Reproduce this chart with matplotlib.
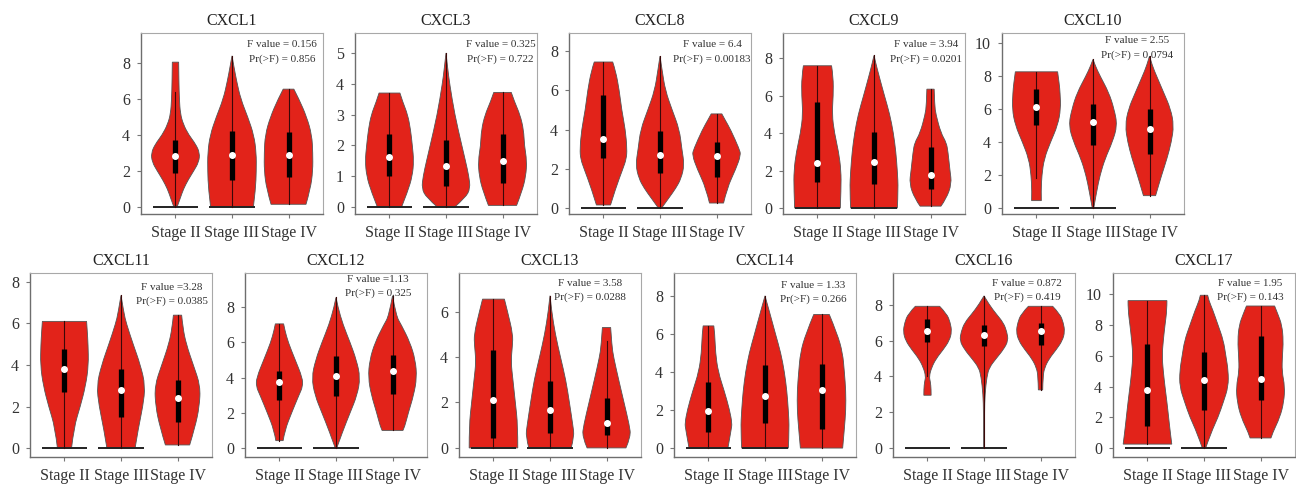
import matplotlib
matplotlib.use("Agg")
import matplotlib.pyplot as plt
from matplotlib.path import Path
from matplotlib.patches import PathPatch

plt.rcParams['font.family'] = ['Liberation Serif', 'DejaVu Serif']

# Data
stages = ['Stage II', 'Stage III', 'Stage IV']
genes = ['CXCL1', 'CXCL3', 'CXCL8', 'CXCL9', 'CXCL10',
         'CXCL11', 'CXCL12', 'CXCL13', 'CXCL14', 'CXCL16', 'CXCL17']
f_text = ['F value = 0.156', 'F value = 0.325', 'F value = 6.4', 'F value = 3.94',
          'F value = 2.55', 'F value =3.28', 'F value =1.13', 'F value = 3.58',
          'F value = 1.33', 'F value = 0.872', 'F value = 1.95']
p_text = ['Pr(>F) = 0.856', 'Pr(>F) = 0.722', 'Pr(>F) = 0.00183', 'Pr(>F) = 0.0201',
          'Pr(>F) = 0.0794', 'Pr(>F) = 0.0385', 'Pr(>F) = 0.325', 'Pr(>F) = 0.0288',
          'Pr(>F) = 0.266', 'Pr(>F) = 0.419', 'Pr(>F) = 0.143']
y_limits = [(-0.39, 9.67), (-0.23, 5.65), (-0.31, 8.93), (-0.32, 9.35), (-0.36, 10.6),
            (-0.43, 8.43), (-0.51, 9.94), (-0.4, 7.7), (-0.47, 9.2), (-0.5, 9.78),
            (-0.59, 11.4)]
y_ticks = [[0, 2, 4, 6, 8], [0, 1, 2, 3, 4, 5], [0, 2, 4, 6, 8], [0, 2, 4, 6, 8],
           [0, 2, 4, 6, 8, 10], [0, 2, 4, 6, 8], [0, 2, 4, 6, 8], [0, 2, 4, 6],
           [0, 2, 4, 6, 8], [0, 2, 4, 6, 8], [0, 2, 4, 6, 8, 10]]
zero_line = [True, True, False]

# violin outlines: (expression, relative half-width), bottom to top
cxcl1_shape = [
    [(0.05, 0.08), (0.5, 0.2), (1, 0.33), (1.5, 0.52), (2, 0.75), (2.5, 0.96), (3, 1.0),
     (3.5, 0.83), (4, 0.55), (4.6, 0.32), (5.2, 0.2), (6, 0.16), (7, 0.14), (8.05, 0.13)],
    [(0, 0.88), (1, 0.97), (2, 1.0), (3, 1.0), (4, 0.9), (5, 0.65), (6, 0.36), (7, 0.19),
     (7.8, 0.08), (8.4, 0.0)],
    [(0.15, 0.72), (1, 0.9), (2, 1.0), (3, 1.0), (4, 0.96), (5, 0.75), (6, 0.43), (6.55, 0.22)],
]
cxcl3_shape = [
    [(0, 0.5), (0.5, 0.75), (1, 0.94), (1.5, 1.0), (2, 0.94), (2.5, 0.87), (3, 0.75),
     (3.4, 0.55), (3.7, 0.43)],
    [(0, 0.36), (0.3, 0.8), (0.6, 1.0), (1, 0.94), (1.5, 0.8), (2, 0.65), (3, 0.36),
     (4, 0.15), (4.5, 0.07), (5.0, 0.0)],
    [(0.05, 0.58), (0.5, 0.8), (1, 0.96), (1.5, 1.0), (2, 0.9), (2.5, 0.87), (3, 0.72),
     (3.4, 0.5), (3.72, 0.36)],
]
cxcl8_shape = [
    [(0.15, 0.29), (1, 0.5), (2, 0.8), (2.5, 0.94), (3, 0.97), (4, 0.9), (5, 0.75),
     (6, 0.65), (7, 0.5), (7.45, 0.38)],
    [(0, 0.07), (0.5, 0.36), (1, 0.65), (1.5, 0.87), (2.2, 1.0), (3, 0.9), (4, 0.8),
     (5, 0.5), (6, 0.22), (7, 0.09), (7.75, 0.0)],
    [(0.25, 0.29), (1, 0.43), (2, 0.8), (2.7, 1.0), (3, 0.94), (4, 0.58), (4.5, 0.35),
     (4.8, 0.22)],
]
cxcl9_shape = [
    [(0, 0.94), (1, 0.97), (2, 0.97), (3, 0.87), (4, 0.7), (5, 0.6), (6, 0.65), (7, 0.65),
     (7.6, 0.58)],
    [(0, 0.96), (1, 1.0), (2, 0.96), (3, 0.9), (4, 0.8), (5, 0.65), (6, 0.43), (7, 0.22),
     (7.7, 0.08), (8.15, 0.0)],
    [(0.1, 0.43), (0.5, 0.65), (1.3, 0.87), (2, 0.8), (3, 0.72), (3.5, 0.65), (4, 0.43),
     (5, 0.22), (5.5, 0.17), (6.35, 0.15)],
]
cxcl10_shape = [
    [(0.45, 0.2), (1, 0.19), (2, 0.22), (3, 0.32), (4, 0.58), (5, 0.87), (6, 1.0),
     (7, 0.97), (7.5, 0.94), (8.25, 0.87)],
    [(0, 0.03), (1, 0.15), (2, 0.29), (3, 0.5), (4, 0.8), (5, 1.0), (6, 0.87), (7, 0.65),
     (8, 0.29), (8.6, 0.1), (9.0, 0.0)],
    [(0.75, 0.25), (1, 0.3), (2, 0.5), (3, 0.72), (4, 0.9), (5, 1.0), (6, 0.87), (7, 0.58),
     (8, 0.29), (8.6, 0.12), (9.2, 0.0)],
]
cxcl11_shape = [
    [(0, 0.29), (1, 0.39), (2, 0.65), (3, 0.87), (4, 0.99), (5, 0.97), (5.6, 0.94), (6.1, 0.91)],
    [(0, 0.58), (1, 0.72), (2, 0.9), (3, 1.0), (4, 0.8), (5, 0.5), (6, 0.22), (6.5, 0.12),
     (7.35, 0.0)],
    [(0.15, 0.5), (1, 0.72), (2, 0.9), (3, 0.94), (4, 0.65), (5, 0.36), (5.8, 0.22), (6.4, 0.17)],
]
cxcl12_shape = [
    [(0.42, 0.15), (1, 0.22), (2, 0.5), (3, 0.8), (3.5, 0.96), (4, 0.94), (5, 0.65),
     (6, 0.36), (6.7, 0.22), (7.05, 0.17)],
    [(0, 0.03), (1, 0.29), (2, 0.58), (3, 0.87), (4, 1.0), (5, 0.84), (6, 0.58), (7, 0.29),
     (8, 0.08), (8.55, 0.0)],
    [(1.0, 0.43), (1.2, 0.5), (2, 0.65), (3, 0.87), (4, 1.0), (5, 0.94), (6, 0.72), (7, 0.36),
     (7.5, 0.15), (8.65, 0.0)],
]
cxcl13_shape = [
    [(0, 1.0), (1, 1.0), (2, 0.9), (3, 0.8), (3.8, 0.72), (4.5, 0.78), (5, 0.8), (6, 0.58),
     (6.55, 0.45)],
    [(0, 0.87), (0.5, 1.0), (1, 0.94), (2, 0.8), (3, 0.65), (4, 0.43), (5, 0.22), (6, 0.07),
     (6.7, 0.0)],
    [(0, 0.8), (0.5, 1.0), (1, 0.94), (2, 0.72), (3, 0.5), (4, 0.29), (4.5, 0.22), (5.3, 0.17)],
]
cxcl14_shape = [
    [(0, 0.8), (1, 0.94), (1.3, 0.97), (2, 0.87), (3, 0.65), (4, 0.4), (5, 0.29), (6, 0.26),
     (6.42, 0.22)],
    [(0, 0.96), (1, 1.0), (2, 0.96), (3, 0.9), (4, 0.8), (5, 0.65), (6, 0.43), (7, 0.22),
     (8.0, 0.0)],
    [(0, 0.87), (1, 0.94), (2, 1.0), (3, 1.0), (4, 0.94), (5, 0.87), (6, 0.65), (7.02, 0.32)],
]
cxcl16_shape = [
    [(2.95, 0.15), (3.3, 0.15), (3.7, 0.12), (4, 0.07), (4.5, 0.17), (5, 0.36), (5.5, 0.65),
     (6, 0.9), (6.5, 1.0), (7, 0.94), (7.5, 0.8), (7.92, 0.5)],
    [(0, 0.01), (2, 0.02), (3, 0.04), (4, 0.12), (4.5, 0.22), (5, 0.5), (5.5, 0.8), (6, 1.0),
     (6.5, 0.94), (7, 0.8), (7.5, 0.5), (8, 0.22), (8.5, 0.0)],
    [(3.25, 0.09), (4, 0.1), (4.5, 0.17), (5, 0.36), (5.5, 0.65), (6, 0.9), (6.5, 1.0),
     (7, 0.94), (7.5, 0.8), (7.92, 0.5)],
]
cxcl17_shape = [
    [(0.25, 1.0), (1, 0.94), (2, 0.87), (3, 0.8), (4, 0.72), (5, 0.65), (6, 0.6), (7, 0.65),
     (8, 0.72), (9, 0.8), (9.6, 0.8)],
    [(0, 0.07), (1, 0.29), (2, 0.58), (3, 0.8), (4, 1.0), (5, 1.0), (6, 0.9), (7, 0.8),
     (8, 0.58), (9, 0.36), (9.6, 0.2), (9.95, 0.15)],
    [(0.65, 0.43), (1, 0.5), (2, 0.8), (3, 0.96), (4, 1.0), (5, 0.88), (6, 0.9), (7, 0.94),
     (8, 0.88), (8.7, 0.72), (9.25, 0.58)],
]

# box stats per stage: (q1, median, q3, line low, line high)
cxcl1_box = [(1.9, 2.85, 3.7, 0, 6.4), (1.5, 2.9, 4.2, 0, 8.4), (1.65, 2.9, 4.15, 0.15, 6.55)]
cxcl3_box = [(1.02, 1.63, 2.37, 0, 3.7), (0.68, 1.34, 2.17, 0, 5.0), (0.78, 1.48, 2.38, 0.05, 3.72)]
cxcl8_box = [(2.55, 3.5, 5.75, 0.15, 7.45), (1.8, 2.72, 3.95, 0, 7.75), (1.6, 2.66, 3.35, 0.25, 4.8)]
cxcl9_box = [(1.4, 2.4, 5.65, 0, 7.6), (1.3, 2.45, 4.05, 0, 8.15), (1.0, 1.75, 3.25, 0.1, 6.35)]
cxcl10_box = [(5.05, 6.1, 7.2, 1.85, 8.25), (3.8, 5.2, 6.3, 0, 9.0), (3.25, 4.78, 6.0, 0.75, 9.2)]
cxcl11_box = [(2.7, 3.8, 4.75, 0, 6.1), (1.5, 2.8, 3.8, 0, 7.35), (1.25, 2.4, 3.3, 0.15, 6.4)]
cxcl12_box = [(2.7, 3.75, 4.4, 0.42, 7.05), (2.95, 4.1, 5.25, 0, 8.55), (3.05, 4.35, 5.3, 1.0, 8.65)]
cxcl13_box = [(0.45, 2.12, 4.3, 0, 6.55), (0.65, 1.68, 2.95, 0, 6.7), (0.55, 1.1, 2.2, 0, 4.7)]
cxcl14_box = [(0.85, 1.95, 3.45, 0, 6.42), (1.3, 2.75, 4.35, 0, 8.0), (1.0, 3.05, 4.4, 0, 7.02)]
cxcl16_box = [(5.95, 6.55, 7.2, 4.0, 7.92), (5.7, 6.3, 6.9, 0, 8.5), (5.75, 6.55, 7.0, 3.25, 7.92)]
cxcl17_box = [(1.4, 3.8, 6.8, 0.25, 9.6), (2.5, 4.45, 6.25, 0, 9.95), (3.15, 4.52, 7.3, 0.65, 9.25)]

shapes = [cxcl1_shape, cxcl3_shape, cxcl8_shape, cxcl9_shape, cxcl10_shape, cxcl11_shape,
          cxcl12_shape, cxcl13_shape, cxcl14_shape, cxcl16_shape, cxcl17_shape]
boxes = [cxcl1_box, cxcl3_box, cxcl8_box, cxcl9_box, cxcl10_box, cxcl11_box,
         cxcl12_box, cxcl13_box, cxcl14_box, cxcl16_box, cxcl17_box]

# Layout (pixels in a 1296x484 figure)
FIG_W, FIG_H = 1296, 484
AX_W = 182
ax_left = [141, 355, 569, 783, 1002, 30, 245, 459, 674, 893, 1113]
ax_top = [33] * 5 + [273] * 6
ax_bottom = [214] * 5 + [457] * 6
text_x = [0.775, 0.80, 0.786, 0.786, 0.742, 0.78, 0.73, 0.72, 0.764, 0.736, 0.753]
text_dy = [12, 12, 12, 12, 8, 14, 6, 10, 12, 10, 10]

VIOLIN_RED = '#E2231A'
HALF_W = 0.43


def violin_path(c, shape):
    right = [(c + w * HALF_W, y) for y, w in shape]
    left = [(c - w * HALF_W, y) for y, w in reversed(shape)]
    verts, codes = [], []

    def add_side(pts, first):
        verts.append(pts[0])
        codes.append(Path.MOVETO if first else Path.LINETO)
        n = len(pts)
        for i in range(1, n - 1):
            if i == n - 2:
                end = pts[-1]
            else:
                end = ((pts[i][0] + pts[i + 1][0]) / 2, (pts[i][1] + pts[i + 1][1]) / 2)
            verts.extend([pts[i], end])
            codes.extend([Path.CURVE3, Path.CURVE3])

    add_side(right, True)
    add_side(left, False)
    verts.append(right[0])
    codes.append(Path.CLOSEPOLY)
    return Path(verts, codes)


fig = plt.figure(figsize=(FIG_W / 100, FIG_H / 100), dpi=100)

for k, gene in enumerate(genes):
    rect = [ax_left[k] / FIG_W, 1 - ax_bottom[k] / FIG_H, AX_W / FIG_W,
            (ax_bottom[k] - ax_top[k]) / FIG_H]
    ax = fig.add_axes(rect)

    for j in range(3):
        c = j + 1
        patch = PathPatch(violin_path(c, shapes[k][j]), facecolor=VIOLIN_RED,
                          edgecolor='#555555', linewidth=0.6, zorder=2)
        ax.add_patch(patch)
        q1, med, q3, lo, hi = boxes[k][j]
        if zero_line[j]:
            ax.plot([c - 0.40, c + 0.40], [0, 0], color='#222222', lw=1.4,
                    solid_capstyle='butt', zorder=3)
        ax.plot([c, c], [lo, hi], color='#3a0808', lw=0.8, zorder=4)
        ax.plot([c, c], [q1, q3], color='black', lw=3.8, solid_capstyle='butt', zorder=5)
        ax.plot([c], [med], 'o', color='white', ms=4, mec='white', zorder=6)

    ax.set_xlim(0.39, 3.61)
    ax.set_ylim(*y_limits[k])
    ax.set_xticks([1, 2, 3])
    ax.set_xticklabels(stages)
    ax.set_yticks(y_ticks[k])
    ax.tick_params(axis='both', length=3, width=0.8, color='#777777',
                   labelsize=11.5, labelcolor='#333333', pad=5)
    for side in ['left', 'bottom']:
        ax.spines[side].set_color('#6e6e6e')
        ax.spines[side].set_linewidth(1.0)
    for side in ['top', 'right']:
        ax.spines[side].set_color('#a8a8a8')
        ax.spines[side].set_linewidth(0.8)

    ax.set_title(gene, fontsize=11.5, pad=6, color='#222222')
    ax.annotate(f_text[k], xy=(text_x[k], 1), xycoords='axes fraction',
                xytext=(0, -text_dy[k] * 0.72), textcoords='offset points',
                ha='center', va='center', fontsize=8, color='#333333')
    ax.annotate(p_text[k], xy=(text_x[k], 1), xycoords='axes fraction',
                xytext=(0, -(text_dy[k] + 14) * 0.72), textcoords='offset points',
                ha='center', va='center', fontsize=8, color='#333333')

fig.savefig('out.png', dpi=100)
